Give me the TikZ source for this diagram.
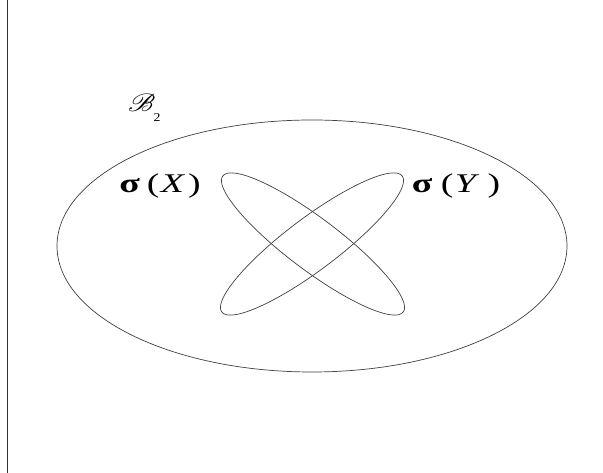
\documentclass[tikz,border=0pt]{standalone}
\usetikzlibrary{shapes.geometric}
\usepackage{graphicx}
\usepackage{mathrsfs}
\usepackage{fontspec}
\setmainfont{Liberation Serif}
\begin{document}
\begin{tikzpicture}[x=1pt,y=1pt,
  curve/.style={draw=black!75,line width=0.7pt,ellipse,inner sep=0pt},
  lbl/.style={inner sep=0pt,font=\fontsize{27}{30}\selectfont}]
\useasboundingbox (0,0) rectangle (603,473);
\fill[white] (0,0) rectangle (603,473);
\draw[line width=1.2pt,black!80] (7.5,0) -- (7.5,473);
\node[curve,minimum width=510pt,minimum height=252pt] (B) at (312,227) {};
\node[curve,minimum width=226pt,minimum height=52pt,rotate=-37] (X) at (313,229) {};
\node[curve,minimum width=226pt,minimum height=52pt,rotate=37] (Y) at (312,229) {};
\node[inner sep=0pt,anchor=base west] (bl) at (128,361) {\scalebox{1.15}[1]{\fontsize{23}{26}\selectfont$\mathscr{B}$\kern-1.5pt\lower10pt\hbox{\fontsize{12}{12}\selectfont 2}}};
\node[lbl,anchor=base] (lx) at (160,280) {\scalebox{1.4}[1]{\textbf{σ}\kern5pt(\kern1pt\textit{X}\kern2pt)}};
\node[lbl,anchor=base] (ly) at (456,280) {\scalebox{1.4}[1]{\textbf{σ}\kern6pt(\kern1pt\textit{Y}\kern6pt)}};
\end{tikzpicture}
\end{document}
